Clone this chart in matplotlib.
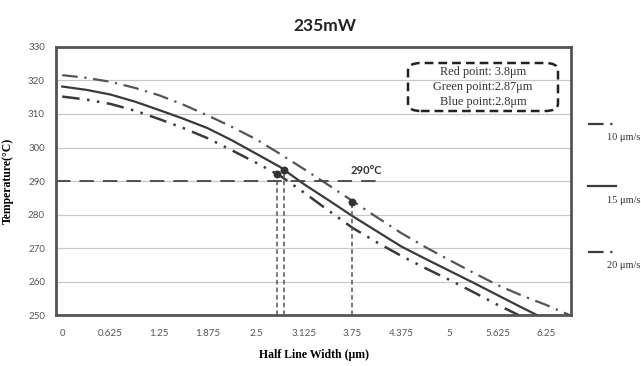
import matplotlib
matplotlib.use("Agg")
import matplotlib.pyplot as plt
from matplotlib.lines import Line2D
from matplotlib.patches import FancyBboxPatch

# --- data ---
half_width = [0, 0.3125, 0.625, 0.9375, 1.25, 1.5625, 1.875, 2.1875, 2.5, 2.8125,
              3.125, 3.4375, 3.75, 4.0625, 4.375, 4.6875, 5, 5.3125, 5.625,
              5.9375, 6.25, 6.55]
temp_10 = [321.6, 320.8, 319.6, 317.8, 315.6, 312.8, 309.6, 306.2, 302.5, 298.1,
           293.5, 288.8, 284.0, 279.2, 274.5, 270.3, 266.4, 262.6, 258.9,
           255.8, 253.0, 250.0]
temp_15 = [318.2, 317.2, 315.8, 313.7, 311.2, 308.6, 305.8, 302.2, 298.2, 294.2,
           289.0, 284.3, 279.5, 275.0, 270.5, 266.8, 263.2, 259.6, 255.9,
           252.2, 248.6, 245.0]
temp_20 = [315.2, 314.3, 313.0, 311.0, 308.5, 305.8, 302.8, 299.2, 295.5, 291.6,
           286.5, 281.2, 276.0, 271.7, 267.7, 264.0, 260.5, 256.8, 253.0,
           249.5, 246.0, 242.6]

point_x = [2.77, 2.87, 3.74]
point_t = [292.2, 293.3, 283.8]

tick_labels = ["0", "0.625", "1.25", "1.875", "2.5", "3.125", "3.75",
               "4.375", "5", "5.625", "6.25"]
series_labels = ["10 \u03bcm/s", "15 \u03bcm/s", "20 \u03bcm/s"]
box_lines = ["Red point: 3.8\u03bcm", "Green point:2.87\u03bcm", "Blue point:2.8\u03bcm"]

line_col = "#3a3a3a"
serif = "Liberation Serif"
dash_10 = (7, 3, 1, 3)
dash_20 = (7, 3, 1, 3, 1, 3)

fig = plt.figure(figsize=(6.41, 3.66), dpi=100)
ax = fig.add_axes([0.0874, 0.1393, 0.8034, 0.7323])

ax.plot(half_width, temp_10, color="#555555", lw=1.6, dashes=dash_10)
ax.plot(half_width, temp_15, color=line_col, lw=1.6)
ax.plot(half_width, temp_20, color=line_col, lw=1.8, dashes=dash_20)

# 290 C reference line and drop lines
ax.plot([-0.08, 4.08], [290, 290], color="#444444", lw=1.3, dashes=(8, 5))
ax.text(3.72, 293.2, "290\u00b0C", fontsize=8, fontweight="bold", color="#333333",
        family="Lato", va="center")
for px, pt in zip(point_x, point_t):
    ax.plot([px, px], [250, pt], color="#555555", lw=1.1, dashes=(3, 2))
ax.scatter(point_x, point_t, s=22, color="#333333", zorder=5)

ax.set_xlim(-0.08, 6.57)
ax.set_ylim(250, 330)
ax.set_xticks([i * 0.625 for i in range(len(tick_labels))])
ax.set_xticklabels(tick_labels)
ax.set_yticks(range(250, 331, 10))
ax.tick_params(axis="both", length=0, labelsize=7, colors="#555555", pad=8)
ax.tick_params(axis="x", pad=10)
for lbl in ax.get_xticklabels() + ax.get_yticklabels():
    lbl.set_family("Lato")
ax.grid(axis="y", color="#c8c8c8", lw=0.9)
ax.set_axisbelow(True)
for sp in ax.spines.values():
    sp.set_color("#555555")
    sp.set_linewidth(2)

ax.set_xlabel("Half Line Width (\u03bcm)", family=serif, fontweight="bold",
              fontsize=8.5, labelpad=8)
ax.set_ylabel("Temperature(\u00b0C)", family=serif, fontweight="bold",
              fontsize=8.5, labelpad=10)

fig.text(0.507, 0.93, "235mW", ha="center", va="center", fontsize=12.5,
         fontweight="bold", family="Lato", color="#222222")

# dashed rounded text box
box = FancyBboxPatch((408 / 641, 1 - 111 / 366), 150 / 641, 48 / 366,
                     boxstyle="round,pad=0,rounding_size=0.02",
                     transform=fig.transFigure, fill=False, ec="#222222",
                     lw=1.8, ls=(0, (3.5, 2)))
fig.add_artist(box)
for i, s in enumerate(box_lines):
    fig.text(483 / 641, 1 - (72 + i * 15) / 366, s, ha="center", va="center",
             fontsize=8.8, family=serif, color="#333333")

# legend drawn to the right of the plot, key above text
key_y = [124, 186, 252]
key_end = [613, 616, 613]
key_dash = [dash_10, None, dash_20]
for yk, xe, lab, dsh in zip(key_y, key_end, series_labels, key_dash):
    ln = Line2D([588 / 641, xe / 641], [1 - yk / 366, 1 - yk / 366],
                transform=fig.transFigure, color=line_col, lw=1.6)
    if dsh:
        ln.set_dashes(dsh)
    fig.add_artist(ln)
    fig.text(607 / 641, 1 - (yk + 14) / 366, lab, fontsize=7.5, family=serif,
             color="#333333", va="center")

fig.savefig("out.png", dpi=100)
